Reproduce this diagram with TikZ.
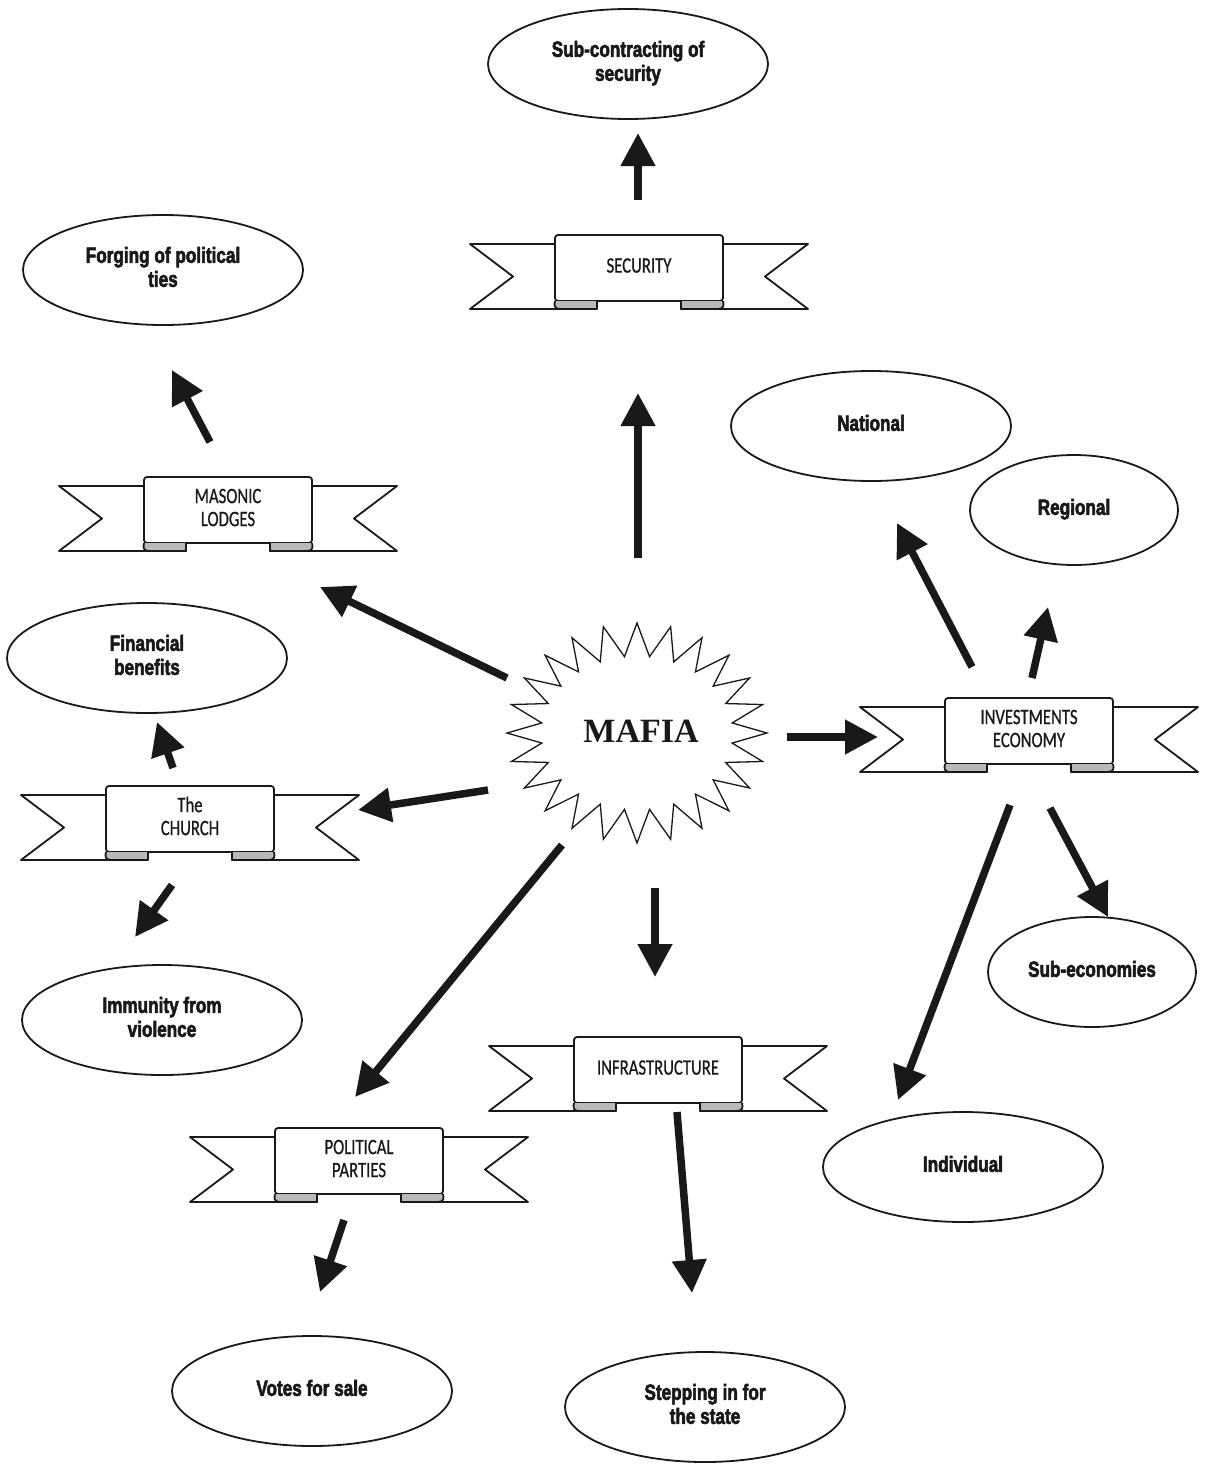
\documentclass[tikz,border=0pt]{standalone}
\usepackage{fontspec}
\usepackage{graphicx}
\usetikzlibrary{arrows.meta,shapes.geometric}

\newfontfamily\ribbonfont{Carlito}[FakeBold=0.8]
\newfontfamily\ovalfont{Liberation Sans Bold}[FakeBold=3]
\newfontfamily\mafiafont{Liberation Serif}

\newcommand\ribbonlabel[1]{\scalebox{0.76}[1]{\begin{tabular}{@{}c@{}}#1\end{tabular}}}
\newcommand\ovallabel[1]{\scalebox{0.78}[1]{\begin{tabular}{@{}c@{}}#1\end{tabular}}}

\definecolor{ink}{gray}{0.1}

\tikzset{
  ink line/.style={draw=ink, line width=1.8pt, line join=round},
  oval/.style={ellipse, ink line, minimum width=280pt, minimum height=110pt,
    inner sep=0pt, text=ink, font=\ovalfont\fontsize{22}{24}\selectfont},
  small oval/.style={oval, minimum width=208pt},
  bigarrow/.style={draw=ink, line width=7.5pt, -{Triangle[length=33pt,width=33pt]}},
  ribbon/.pic={
    % tails behind the banner
    \path[ink line, fill=white] (-84,-24) -- (-169,-24) -- (-126,8.5) -- (-169,41) -- (-42,41) -- (-42,33);
    \path[ink line, fill=white] (84,-24) -- (169,-24) -- (126,8.5) -- (169,41) -- (42,41) -- (42,33);
    % banner face
    \filldraw[ink line, fill=white, rounded corners=3pt] (-84,-33) rectangle (84,33);
    % folds under the banner
    \filldraw[ink line, fill=gray!55] (-42,33) -- (-42,41) -- (-79,41)
      .. controls (-85,41) and (-85,37) .. (-84,33);
    \filldraw[ink line, fill=gray!55] (42,33) -- (42,41) -- (79,41)
      .. controls (85,41) and (85,37) .. (84,33);
    \node[inner sep=0pt, text=ink, font=\ribbonfont\fontsize{22}{23}\selectfont] (-t) at (0,0) {\ribbonlabel{#1}};
  }
}

\begin{document}
\begin{tikzpicture}[x=1pt, y=-1pt]
\useasboundingbox[fill=white] (0,0) rectangle (1207,1464);

% central star
\filldraw[draw=ink, line width=1.3pt, fill=white, shift={(637,733)}]
  (90:130 and 110) \foreach \i in {0,...,23} { -- ({97.5+15*\i}:96 and 77) -- ({105+15*\i}:130 and 110) } -- cycle;
\node[text=ink, font=\mafiafont\bfseries\fontsize{34}{36}\selectfont] (mafia) at (641,731) {MAFIA};

% banners
\pic (security) at (639,268) {ribbon={SECURITY}};
\pic (masonic) at (228,510) {ribbon={MASONIC\\LODGES}};
\pic (church) at (190,819) {ribbon={The\\CHURCH}};
\pic (invest) at (1029,731) {ribbon={INVESTMENTS\\ECONOMY}};
\pic (infra) at (658,1070) {ribbon={INFRASTRUCTURE}};
\pic (parties) at (359,1161) {ribbon={POLITICAL\\PARTIES}};

% outcomes
\node[oval] (subsec) at (628,64) {\ovallabel{Sub-contracting of\\security}};
\node[oval] (forging) at (163,270) {\ovallabel{Forging of political\\ties}};
\node[oval] (national) at (871,426) {\ovallabel{National}};
\node[small oval] (regional) at (1074,510) {\ovallabel{Regional}};
\node[oval] (financial) at (147,658) {\ovallabel{Financial\\benefits}};
\node[oval] (immunity) at (162,1020) {\ovallabel{Immunity from\\violence}};
\node[small oval] (subeco) at (1092,972) {\ovallabel{Sub-economies}};
\node[oval] (individual) at (963,1167) {\ovallabel{Individual}};
\node[oval] (votes) at (312,1391) {\ovallabel{Votes for sale}};
\node[oval] (stepping) at (705,1407) {\ovallabel{Stepping in for\\the state}};

% arrow ends
\coordinate (mafia-n) at (638,558);   \coordinate (security-s) at (638,393);
\coordinate (security-n) at (638,200);\coordinate (subsec-s) at (638,133);
\coordinate (mafia-nw) at (507,678);  \coordinate (masonic-se) at (320,587);
\coordinate (masonic-n) at (210,442); \coordinate (forging-s) at (172,370);
\coordinate (mafia-w) at (488,790);   \coordinate (church-e) at (358,810);
\coordinate (church-n) at (173,768);  \coordinate (financial-s) at (157,722);
\coordinate (church-s) at (172,885);  \coordinate (immunity-n) at (135,937);
\coordinate (mafia-sw) at (562,845);  \coordinate (parties-n) at (355,1097);
\coordinate (mafia-s) at (655,888);   \coordinate (infra-n) at (655,977);
\coordinate (parties-s) at (344,1220);\coordinate (votes-n) at (320,1292);
\coordinate (infra-s) at (677,1112);  \coordinate (stepping-n) at (692,1293);
\coordinate (mafia-e) at (787,737);   \coordinate (invest-w) at (878,737);
\coordinate (invest-nw) at (972,667); \coordinate (national-s) at (897,523);
\coordinate (invest-n) at (1032,678); \coordinate (regional-s) at (1048,607);
\coordinate (invest-se) at (1050,808);\coordinate (subeco-n) at (1108,917);
\coordinate (invest-s) at (1010,805); \coordinate (individual-n) at (898,1100);

% connectors
\draw[bigarrow] (mafia-n) -- (security-s);
\draw[bigarrow] (security-n) -- (subsec-s);
\draw[bigarrow] (mafia-nw) -- (masonic-se);
\draw[bigarrow] (masonic-n) -- (forging-s);
\draw[bigarrow] (mafia-w) -- (church-e);
\draw[bigarrow] (church-n) -- (financial-s);
\draw[bigarrow] (church-s) -- (immunity-n);
\draw[bigarrow] (mafia-sw) -- (parties-n);
\draw[bigarrow] (mafia-s) -- (infra-n);
\draw[bigarrow] (parties-s) -- (votes-n);
\draw[bigarrow] (infra-s) -- (stepping-n);
\draw[bigarrow] (mafia-e) -- (invest-w);
\draw[bigarrow] (invest-nw) -- (national-s);
\draw[bigarrow] (invest-n) -- (regional-s);
\draw[bigarrow] (invest-se) -- (subeco-n);
\draw[bigarrow] (invest-s) -- (individual-n);
\end{tikzpicture}
\end{document}
